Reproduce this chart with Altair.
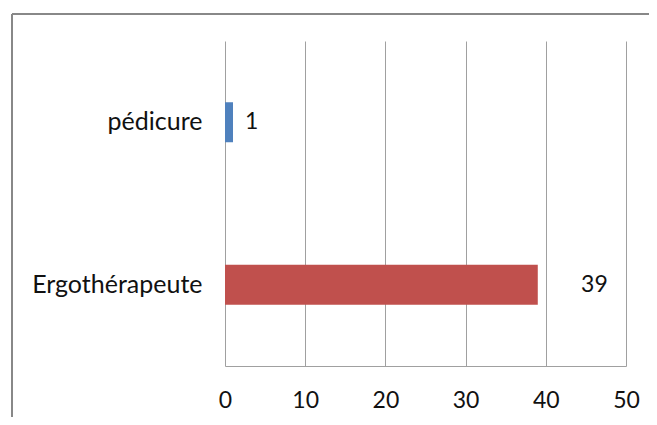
import altair as alt
import pandas as pd

categories = ["pédicure", "Ergothérapeute"]
values = [1, 39]
colors = ["#4F81BD", "#C0504D"]

df = pd.DataFrame({"cat": categories, "val": values, "color": colors})

FONT = "Lato"

x_scale = alt.Scale(domain=[0, 50], nice=False)
y_scale = alt.Scale(domain=categories, paddingInner=0.75, paddingOuter=0.375)

bars = alt.Chart(df).mark_bar(size=40).encode(
    x=alt.X("val:Q", scale=x_scale,
            axis=alt.Axis(values=[0, 10, 20, 30, 40, 50], title=None, grid=True,
                          gridColor="#A0A0A0", domainColor="#A0A0A0", ticks=False,
                          labelFontSize=23, labelFont=FONT, labelColor="#111111",
                          labelPadding=23, labelBaseline="top", labelFlush=False)),
    y=alt.Y("cat:N", scale=y_scale, sort=categories,
            axis=alt.Axis(title=None, domain=False, ticks=False, grid=False,
                          labelFontSize=25, labelFont=FONT, labelColor="#111111",
                          labelPadding=23)),
    color=alt.Color("color:N", scale=None),
)

labels = alt.Chart(df).transform_calculate(
    lx="datum.val > 20 ? datum.val + 5.4 : datum.val + 1.5"
).mark_text(align="left", baseline="middle", fontSize=23, font=FONT, color="#111111").encode(
    x=alt.X("lx:Q", scale=x_scale),
    y=alt.Y("cat:N", scale=y_scale, sort=categories),
    text=alt.Text("val:Q"),
)

border_left = alt.Chart(df).mark_rule(color="#888888", strokeWidth=2).encode(
    x=alt.value(-213), y=alt.value(-27), y2=alt.value(420)
)
border_top = alt.Chart(df).mark_rule(color="#888888", strokeWidth=2).encode(
    x=alt.value(-213), x2=alt.value(440), y=alt.value(-27)
)

chart = alt.layer(bars, labels, border_left, border_top).properties(
    width=401, height=325,
    padding={"left": 217, "top": 33, "right": 23, "bottom": 51},
    autosize=alt.AutoSizeParams(type="none"),
).configure_view(stroke=None)

chart.save("out.html", embed_options={"renderer": "svg", "actions": False})
